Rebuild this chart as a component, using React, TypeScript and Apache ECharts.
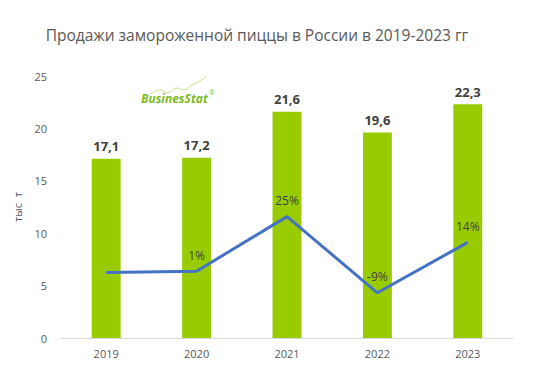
import React, { useEffect, useRef } from "react";
import * as echarts from "echarts";

const years = ["2019", "2020", "2021", "2022", "2023"];
const sales = [17.1, 17.2, 21.6, 19.6, 22.3];
const growth = [0, 0.6, 25.6, -9.3, 13.8];
const growthLabels = ["", "1%", "25%", "-9%", "14%"];

export default function App() {
  const ref = useRef<HTMLDivElement>(null);
  useEffect(() => {
    const chart = echarts.init(ref.current!, null, { renderer: "svg" });
    chart.setOption({
      animation: false,
      backgroundColor: "#ffffff",
      title: {
        text: "Продажи замороженной пиццы в России в 2019-2023 гг",
        left: 252,
        textAlign: "center",
        top: 22,
        textStyle: {
          fontFamily: "Open Sans",
          fontSize: 15.5,
          fontWeight: "normal",
          color: "#595959",
        },
      },
      grid: { left: 61, right: 37, top: 76, bottom: 48 },
      xAxis: {
        type: "category",
        data: years,
        axisLine: { lineStyle: { color: "#d9d9d9", width: 1 } },
        axisTick: { show: false },
        axisLabel: { color: "#595959", fontSize: 11, fontFamily: "Open Sans", margin: 10 },
      },
      yAxis: [
        {
          type: "value",
          min: 0,
          max: 25,
          interval: 5,
          name: "тыс  т",
          nameLocation: "middle",
          nameGap: 38,
          nameTextStyle: { color: "#595959", fontSize: 11, fontFamily: "Open Sans" },
          splitLine: { show: false },
          axisLine: { show: false },
          axisTick: { show: false },
          axisLabel: { color: "#595959", fontSize: 11, fontFamily: "Open Sans", margin: 14 },
        },
        {
          type: "value",
          min: -30,
          max: 90,
          show: false,
          splitLine: { show: false },
        },
      ],
      series: [
        {
          type: "bar",
          data: sales,
          barWidth: "32%",
          itemStyle: { color: "#99cc00" },
          label: {
            show: true,
            position: "top",
            distance: 6,
            formatter: (p: any) => String(p.value).replace(".", ","),
            color: "#404040",
            fontWeight: "bold",
            fontSize: 13,
            fontFamily: "Open Sans",
          },
        },
        {
          type: "line",
          yAxisIndex: 1,
          data: growth,
          symbol: "circle",
          symbolSize: 2,
          showSymbol: true,
          itemStyle: { color: "rgba(0,0,0,0)", borderWidth: 0 },
          lineStyle: { color: "#4472c4", width: 3 },
          label: {
            show: true,
            position: "top",
            distance: 9,
            formatter: (p: any) => growthLabels[p.dataIndex],
            color: "#404040",
            fontSize: 12,
            fontFamily: "Open Sans",
          },
          z: 3,
        },
      ],
      graphic: [
        {
          type: "polyline",
          shape: {
            points: [
              [150, 94],
              [160, 90],
              [168, 93],
              [176, 88],
              [184, 90],
              [192, 85],
              [200, 81],
              [207, 76],
            ],
            smooth: 0.4,
          },
          style: { stroke: "#c8e08c", lineWidth: 1, fill: null },
        },
        {
          type: "text",
          x: 141,
          y: 92,
          style: {
            text: "BusinesStat",
            fill: "#7dbb1f",
            font: "italic bold 12px 'Open Sans'",
          },
        },
        {
          type: "text",
          x: 209,
          y: 89,
          style: {
            text: "®",
            fill: "#7dbb1f",
            font: "7px 'Open Sans'",
          },
        },
      ],
    });
    return () => chart.dispose();
  }, []);
  return (
    <div
      ref={ref}
      style={{ position: "fixed", left: 0, top: 0, width: 550, height: 386 }}
    />
  );
}
